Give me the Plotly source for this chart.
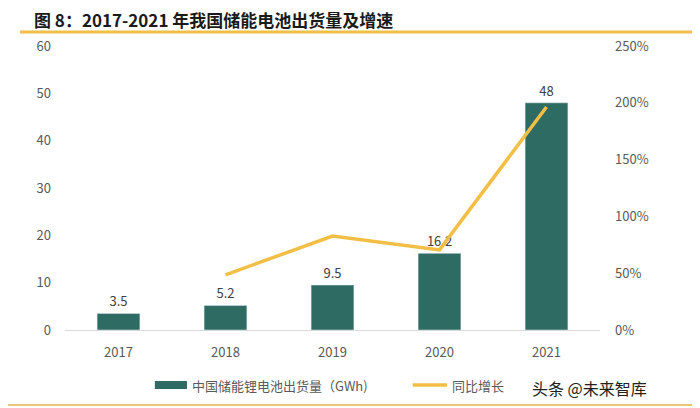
import plotly.graph_objects as go

years = ["2017", "2018", "2019", "2020", "2021"]
shipments = [3.5, 5.2, 9.5, 16.2, 48]
growth_years = ["2018", "2019", "2020", "2021"]
growth = [0.486, 0.827, 0.705, 1.963]
bar_labels = ["3.5", "5.2", "9.5", "16.2", "48"]

bar_color = "#2E6B62"
line_color = "#F2BE45"
font_fam = "Noto Sans CJK SC, Noto Sans, sans-serif"

fig = go.Figure()
fig.add_trace(go.Bar(
    x=years, y=shipments, name="中国储能锂电池出货量（GWh)",
    marker_color=bar_color, width=0.4,
    text=bar_labels, textposition="outside",
    textfont=dict(size=13, color="#404040"), cliponaxis=False,
))
fig.add_trace(go.Scatter(
    x=growth_years, y=growth, name="同比增长", yaxis="y2",
    mode="lines", line=dict(color=line_color, width=3.5),
))

fig.update_layout(
    width=700, height=408,
    margin=dict(l=57, r=108, t=38, b=86),
    paper_bgcolor="white", plot_bgcolor="white",
    font=dict(family=font_fam, color="#595959", size=13),
    showlegend=False,
    xaxis=dict(showgrid=False, showline=True, linecolor="#D9D9D9", linewidth=1,
               ticks="", tickfont=dict(size=13, color="#595959"),
               ticklabelstandoff=10, automargin=False),
    yaxis=dict(range=[0, 60], dtick=10, showgrid=False, zeroline=False,
               tickfont=dict(size=13, color="#595959"), ticklabelstandoff=13,
               automargin=False),
    yaxis2=dict(range=[0, 2.5], dtick=0.5, tickformat=".0%", overlaying="y",
                side="right", showgrid=False, zeroline=False,
                tickfont=dict(size=13, color="#595959"), ticklabelstandoff=14,
                automargin=False),
    bargap=0.6,
)

# title and rules
fig.add_annotation(text="<b>图 8：2017-2021 年我国储能电池出货量及增速</b>",
                   xref="paper", yref="paper", x=-0.062, y=1.092, xanchor="left",
                   yanchor="middle", showarrow=False,
                   font=dict(size=17, color="#1a1a1a", family=font_fam))
fig.add_shape(type="line", xref="paper", yref="paper", x0=-0.084, x1=1.2,
              y0=1.049, y1=1.049, line=dict(color=line_color, width=3))
fig.add_shape(type="line", xref="paper", yref="paper", x0=-0.12, x1=1.2,
              y0=-0.264, y1=-0.264, line=dict(color="#E8C77A", width=2))

# manual legend
fig.add_shape(type="rect", xref="paper", yref="paper", x0=0.168, x1=0.228,
              y0=-0.208, y1=-0.180, fillcolor=bar_color, line=dict(width=0))
fig.add_annotation(text="中国储能锂电池出货量（GWh)", xref="paper", yref="paper",
                   x=0.234, y=-0.194, xanchor="left", yanchor="middle",
                   showarrow=False, font=dict(size=13, color="#595959"))
fig.add_shape(type="line", xref="paper", yref="paper", x0=0.650, x1=0.714,
              y0=-0.194, y1=-0.194, line=dict(color=line_color, width=3.5))
fig.add_annotation(text="同比增长", xref="paper", yref="paper",
                   x=0.720, y=-0.194, xanchor="left", yanchor="middle",
                   showarrow=False, font=dict(size=13, color="#595959"))

# watermark
fig.add_annotation(text="头条 @未来智库", xref="paper", yref="paper",
                   x=0.869, y=-0.205, xanchor="left", yanchor="middle",
                   showarrow=False, font=dict(size=16, color="#222222", family=font_fam))

fig.write_html("out.html")
